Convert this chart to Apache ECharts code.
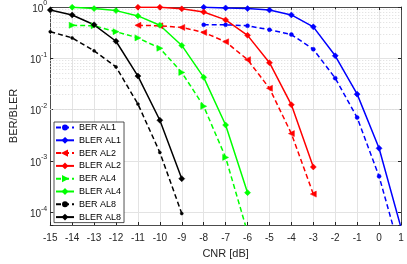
<!DOCTYPE html>
<html><head><meta charset="utf-8">
<script src="https://cdn.jsdelivr.net/npm/echarts@6/dist/echarts.min.js"></script>
<style>html,body{margin:0;padding:0;background:#fff}#c{width:407px;height:264px}</style>
</head><body><div id="c"></div>
<script>
var xBerAL1 = [-8,-7,-6,-5,-4,-3,-2,-1,0,1];
var berAL1  = [0.45,0.45,0.43,0.36,0.29,0.15,0.041,0.007,5e-4,1.5e-5];
var xBlerAL1 = [-8,-7,-6,-5,-4,-3,-2,-1,0,1];
var blerAL1  = [0.99,0.96,0.93,0.87,0.70,0.41,0.112,0.02,0.00176,5e-5];
var xBerAL2 = [-11,-10,-9,-8,-7,-6,-5,-4,-3];
var berAL2  = [0.44,0.43,0.40,0.32,0.21,0.094,0.026,0.0034,2.25e-4];
var xBlerAL2 = [-11,-10,-9,-8,-7,-6,-5,-4,-3];
var blerAL2  = [0.99,0.99,0.92,0.80,0.56,0.28,0.082,0.0124,7.6e-4];
var xBerAL4 = [-14,-13,-12,-11,-10,-9,-8,-7,-6];
var berAL4  = [0.44,0.43,0.33,0.25,0.157,0.053,0.0116,0.00117,4e-5];
var xBlerAL4 = [-14,-13,-12,-11,-10,-9,-8,-7,-6];
var blerAL4  = [0.99,0.93,0.85,0.67,0.44,0.178,0.0425,0.005,2.4e-4];
var xBerAL8 = [-15,-14,-13,-12,-11,-10,-9];
var berAL8  = [0.33,0.25,0.14,0.068,0.0128,0.00146,9.4e-5];
var xBlerAL8 = [-15,-14,-13,-12,-11,-10,-9];
var blerAL8  = [0.87,0.70,0.45,0.215,0.045,0.0062,4.5e-4];
var seriesNames = ['BER AL1','BLER AL1','BER AL2','BLER AL2','BER AL4','BLER AL4','BER AL8','BLER AL8'];
var xTitle = 'CNR [dB]';
var yTitle = 'BER/BLER';

var FONT = 'Liberation Sans, Arial, Helvetica, sans-serif';
var TXT = '#262626';
function pairs(xs, ys){ return xs.map(function(x,i){ return [x, ys[i]]; }); }

// minor grid line positions (2..9 x 10^k)
var minorLines = [];
for (var k = -5; k <= -1; k++) {
  for (var m = 2; m <= 9; m++) {
    var v = m * Math.pow(10, k);
    if (v > 5.62e-5 && v < 1) minorLines.push({yAxis: v});
  }
}

function mk(name, xs, ys, color, dashed, symbol, size, rot) {
  return {
    name: name, type: 'line', data: pairs(xs, ys),
    xAxisIndex: 0, yAxisIndex: 0,
    symbol: symbol, symbolSize: size, symbolRotate: rot || 0,
    showAllSymbol: true, clip: true,
    lineStyle: {color: color, width: 1.5, type: dashed ? [5, 3] : 'solid'},
    itemStyle: {color: color, borderColor: color, borderWidth: 0.5},
    emphasis: {disabled: true}, animation: false, z: 5
  };
}

var chart = echarts.init(document.getElementById('c'), null, {renderer: 'canvas'});
var yLab = function (v) {
  var l = Math.log10(v), e = Math.round(l);
  if (Math.abs(l - e) > 0.01) return '';
  return '{a|10}{b|' + e + '}';
};
chart.setOption({
  animation: false,
  backgroundColor: '#fff',
  grid: {left: 40, right: 6, top: 3, bottom: 35, show: false},
  legend: {
    data: seriesNames, orient: 'vertical', left: 54, top: 122,
    itemWidth: 18, itemHeight: 5, itemGap: 1.8,
    padding: [0, 3, 0, 1],
    backgroundColor: '#fff', borderColor: '#262626', borderWidth: 0.8,
    textStyle: {fontFamily: FONT, fontSize: 9, color: '#000', lineHeight: 11},
    selectedMode: false
  },
  xAxis: [{
    type: 'value', min: -15, max: 1, interval: 1,
    name: xTitle, nameLocation: 'middle', nameGap: 23,
    nameTextStyle: {fontFamily: FONT, fontSize: 11, color: TXT},
    axisLine: {show: true, onZero: false, lineStyle: {color: '#262626', width: 0.8}},
    axisTick: {show: true, inside: true, length: 3, lineStyle: {color: '#262626'}},
    axisLabel: {fontFamily: FONT, fontSize: 10, color: TXT, margin: 8},
    splitLine: {show: true, lineStyle: {color: '#e3e3e3', width: 1}}
  }, {
    type: 'value', min: -15, max: 1, interval: 1, position: 'top',
    axisLine: {show: true, onZero: false, lineStyle: {color: '#262626', width: 0.8}},
    axisTick: {show: true, inside: true, length: 3, lineStyle: {color: '#262626'}},
    axisLabel: {show: false}, splitLine: {show: false}
  }],
  yAxis: [{
    type: 'log', logBase: 10, min: 5.62e-5, max: 1,
    name: yTitle, nameLocation: 'middle', nameGap: 28,
    nameTextStyle: {fontFamily: FONT, fontSize: 11, color: TXT},
    axisLine: {show: true, onZero: false, lineStyle: {color: '#262626', width: 0.8}},
    axisTick: {show: true, inside: true, length: 3, lineStyle: {color: '#262626'}},
    axisLabel: {
      margin: 3, formatter: yLab,
      rich: {
        a: {fontFamily: FONT, fontSize: 10, color: TXT, lineHeight: 14, verticalAlign: 'bottom'},
        b: {fontFamily: FONT, fontSize: 7, color: TXT, lineHeight: 7, verticalAlign: 'top'}
      }
    },
    splitLine: {show: true, lineStyle: {color: '#e3e3e3', width: 1}}
  }, {
    type: 'log', logBase: 10, min: 5.62e-5, max: 1, position: 'right',
    axisLine: {show: true, onZero: false, lineStyle: {color: '#262626', width: 0.8}},
    axisTick: {show: true, inside: true, length: 3, lineStyle: {color: '#262626'}},
    axisLabel: {show: false}, splitLine: {show: false}
  }],
  series: [
    {
      name: 'minor', type: 'line', data: [], xAxisIndex: 0, yAxisIndex: 0, z: 1,
      markLine: {
        silent: true, symbol: 'none', label: {show: false}, animation: false,
        lineStyle: {color: '#dcdcdc', type: [1, 2], width: 1},
        data: minorLines
      }
    },
    mk(seriesNames[0], xBerAL1, berAL1, '#0000ff', true, 'circle', 4),
    mk(seriesNames[1], xBlerAL1, blerAL1, '#0000ff', false, 'diamond', 6),
    mk(seriesNames[2], xBerAL2, berAL2, '#ff0000', true, 'triangle', 6, 90),
    mk(seriesNames[3], xBlerAL2, blerAL2, '#ff0000', false, 'diamond', 6),
    mk(seriesNames[4], xBerAL4, berAL4, '#00ff00', true, 'triangle', 6, -90),
    mk(seriesNames[5], xBlerAL4, blerAL4, '#00ff00', false, 'diamond', 6),
    mk(seriesNames[6], xBerAL8, berAL8, '#000000', true, 'circle', 3),
    mk(seriesNames[7], xBlerAL8, blerAL8, '#000000', false, 'diamond', 6)
  ]
});
</script>
</body></html>
